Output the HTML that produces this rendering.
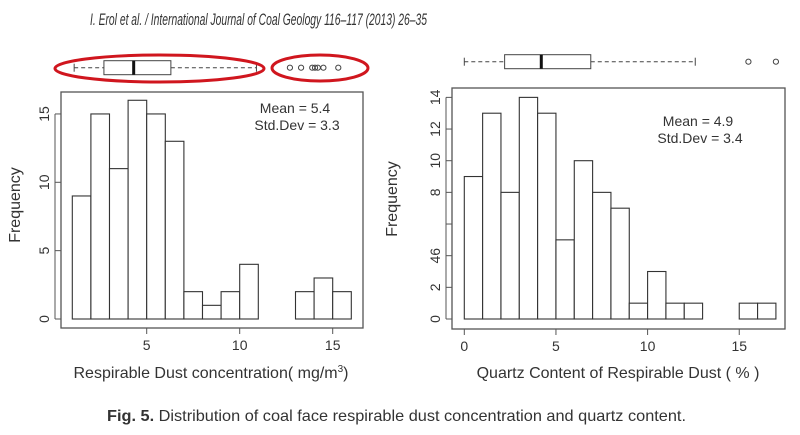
<!DOCTYPE html>
<html><head><meta charset="utf-8"><style>
html,body{margin:0;padding:0;background:#fff;width:800px;height:435px;overflow:hidden}
svg{display:block}
text{font-family:"Liberation Sans",sans-serif;fill:#333}
</style></head><body>
<svg id="fig" width="800" height="435" viewBox="0 0 800 435">
<text x="90" y="25" font-size="17" font-style="italic" textLength="337" lengthAdjust="spacingAndGlyphs">I. Erol et al. / International Journal of Coal Geology 116–117 (2013) 26–35</text>
<text x="107" y="421" font-size="16" textLength="579" lengthAdjust="spacingAndGlyphs"><tspan font-weight="bold">Fig. 5.</tspan> Distribution of coal face respirable dust concentration and quartz content.</text>
<g id="left"></g>
<g id="right"></g>
</svg>
<script>
// Left chart data
const dustBinStarts=[1,2,3,4,5,6,7,8,9,10,11,12,13,14,15];
const dustCounts=[9,15,11,16,15,13,2,1,2,4,0,0,2,3,2];
const dustXTicks=[5,10,15];
const dustYTicks=[0,5,10,15];
const dustBox=[1.1,2.7,4.3,6.3,10.9];
const dustOutliers=[12.7,13.3,13.9,14.05,14.2,14.5,15.3];
// Right chart data
const quartzBinStarts=[0,1,2,3,4,5,6,7,8,9,10,11,12,13,14,15,16];
const quartzCounts=[9,13,8,14,13,5,10,8,7,1,3,1,1,0,0,1,1];
const quartzXTicks=[0,5,10,15];
const quartzYTicks=[0,2,4,6,8,10,12,14];
const quartzYTickLabels=["0","2","46","","8","10","12","14"];
const quartzBox=[0,2.2,4.2,6.9,12.6];
const quartzOutliers=[15.5,17];

const NS="http://www.w3.org/2000/svg";
function mk(p,tag,attrs,txt){const e=document.createElementNS(NS,tag);for(const k in attrs)e.setAttribute(k,attrs[k]);if(txt!==undefined)e.textContent=txt;p.appendChild(e);return e;}

function draw(g,cfg){
  const sx=v=>cfg.x0+(v-cfg.xv0)*cfg.xs;
  const sy=v=>cfg.y0-v*cfg.ys;
  let e=mk(g,'rect',{x:cfg.box[0],y:cfg.box[1],width:cfg.box[2]-cfg.box[0],height:cfg.box[3]-cfg.box[1],fill:'none',stroke:'#555','stroke-width':1.3});
  
  
  cfg.starts.forEach((s,i)=>{
    const c=cfg.counts[i];
    const r=mk(g,'rect',{x:sx(s),y:sy(c),width:sx(s+1)-sx(s),height:sy(0)-sy(c),fill:'#fff',stroke:'#333','stroke-width':1.1});
    
    
  });
  const by=cfg.box[3];
  mk(g,'line',{x1:sx(cfg.xt[0]),x2:sx(cfg.xt[cfg.xt.length-1]),y1:by,y2:by,stroke:'#555'});
  cfg.xt.forEach(t=>{
    mk(g,'line',{x1:sx(t),x2:sx(t),y1:by,y2:by+6,stroke:'#555'});
    const tl=mk(g,'text',{x:sx(t),y:by+22,'font-size':14,'text-anchor':'middle'},String(t));
    
    
  });
  const bx=cfg.box[0];
  cfg.yt.forEach((t,i)=>{
    mk(g,'line',{x1:bx-6,x2:bx,y1:sy(t),y2:sy(t),stroke:'#555'});
    const lab=cfg.ytl?cfg.ytl[i]:String(t);
    const tl=mk(g,'text',{x:bx-12,y:sy(t),'font-size':14,'text-anchor':'middle',transform:`rotate(-90 ${bx-12} ${sy(t)})`},lab);
    
    
  });
  mk(g,'line',{x1:bx-6,x2:bx-6,y1:sy(cfg.yt[0]),y2:sy(cfg.yt[cfg.yt.length-1]),stroke:'#555'});
  let t=mk(g,'text',{x:cfg.ylab[0],y:cfg.ylab[1],'font-size':16,'text-anchor':'middle',transform:`rotate(-90 ${cfg.ylab[0]} ${cfg.ylab[1]})`},'Frequency');
  
  
  t=mk(g,'text',{x:cfg.xlab[0],y:cfg.xlab[1],'font-size':16,'text-anchor':'middle'});
  t.innerHTML=cfg.xlabText;
  
  
  t=mk(g,'text',{x:cfg.stat[0],y:cfg.stat[1],'font-size':14,'text-anchor':'middle'},cfg.stats[0]);
  
  
  t=mk(g,'text',{x:cfg.stat[0]+2,y:cfg.stat[1]+17,'font-size':14,'text-anchor':'middle'},cfg.stats[1]);
  
  
  const bp=mk(g,'g',{});
  
  
  const cy=cfg.bpy,h=7,b=cfg.bp;
  mk(bp,'line',{x1:sx(b[0]),x2:sx(b[1]),y1:cy,y2:cy,stroke:'#444','stroke-dasharray':'4 3'});
  mk(bp,'line',{x1:sx(b[3]),x2:sx(b[4]),y1:cy,y2:cy,stroke:'#444','stroke-dasharray':'4 3'});
  mk(bp,'line',{x1:sx(b[0]),x2:sx(b[0]),y1:cy-4,y2:cy+4,stroke:'#444'});
  mk(bp,'line',{x1:sx(b[4]),x2:sx(b[4]),y1:cy-4,y2:cy+4,stroke:'#444'});
  mk(bp,'rect',{x:sx(b[1]),y:cy-h,width:sx(b[3])-sx(b[1]),height:2*h,fill:'#fff',stroke:'#444'});
  mk(bp,'line',{x1:sx(b[2]),x2:sx(b[2]),y1:cy-h,y2:cy+h,stroke:'#111','stroke-width':3});
  cfg.out.forEach(o=>{
    const c=mk(bp,'circle',{cx:sx(o),cy:cy,r:2.6,fill:'none',stroke:'#444'});
    
    
  });
}
const L=document.getElementById('left'),R=document.getElementById('right');
draw(L,{x0:72.3,xv0:1,xs:18.6,y0:319,ys:13.67,box:[61,92,363,328],starts:dustBinStarts,counts:dustCounts,xt:dustXTicks,yt:dustYTicks,
  ylab:[20,205],xlab:[211,378],xlabText:'Respirable Dust concentration( mg/m<tspan dy="-6" font-size="10">3</tspan><tspan dy="6">)</tspan>',
  stat:[295,113],stats:['Mean = 5.4','Std.Dev = 3.3'],bpy:67.7,bp:dustBox,out:dustOutliers});
draw(R,{x0:464.3,xv0:0,xs:18.33,y0:319,ys:15.83,box:[452,88,785,329],starts:quartzBinStarts,counts:quartzCounts,xt:quartzXTicks,yt:quartzYTicks,ytl:quartzYTickLabels,
  ylab:[397,199],xlab:[618,378],xlabText:'Quartz Content of Respirable Dust ( % )',
  stat:[698,126],stats:['Mean = 4.9','Std.Dev = 3.4'],bpy:61.7,bp:quartzBox,out:quartzOutliers});
const svg=document.getElementById('fig');
let el=mk(svg,'ellipse',{cx:159.5,cy:68.5,rx:104.5,ry:13.5,fill:'none',stroke:'#d0161e','stroke-width':3});


el=mk(svg,'ellipse',{cx:320,cy:68,rx:48,ry:13,fill:'none',stroke:'#d0161e','stroke-width':3});


</script>
</body></html>
